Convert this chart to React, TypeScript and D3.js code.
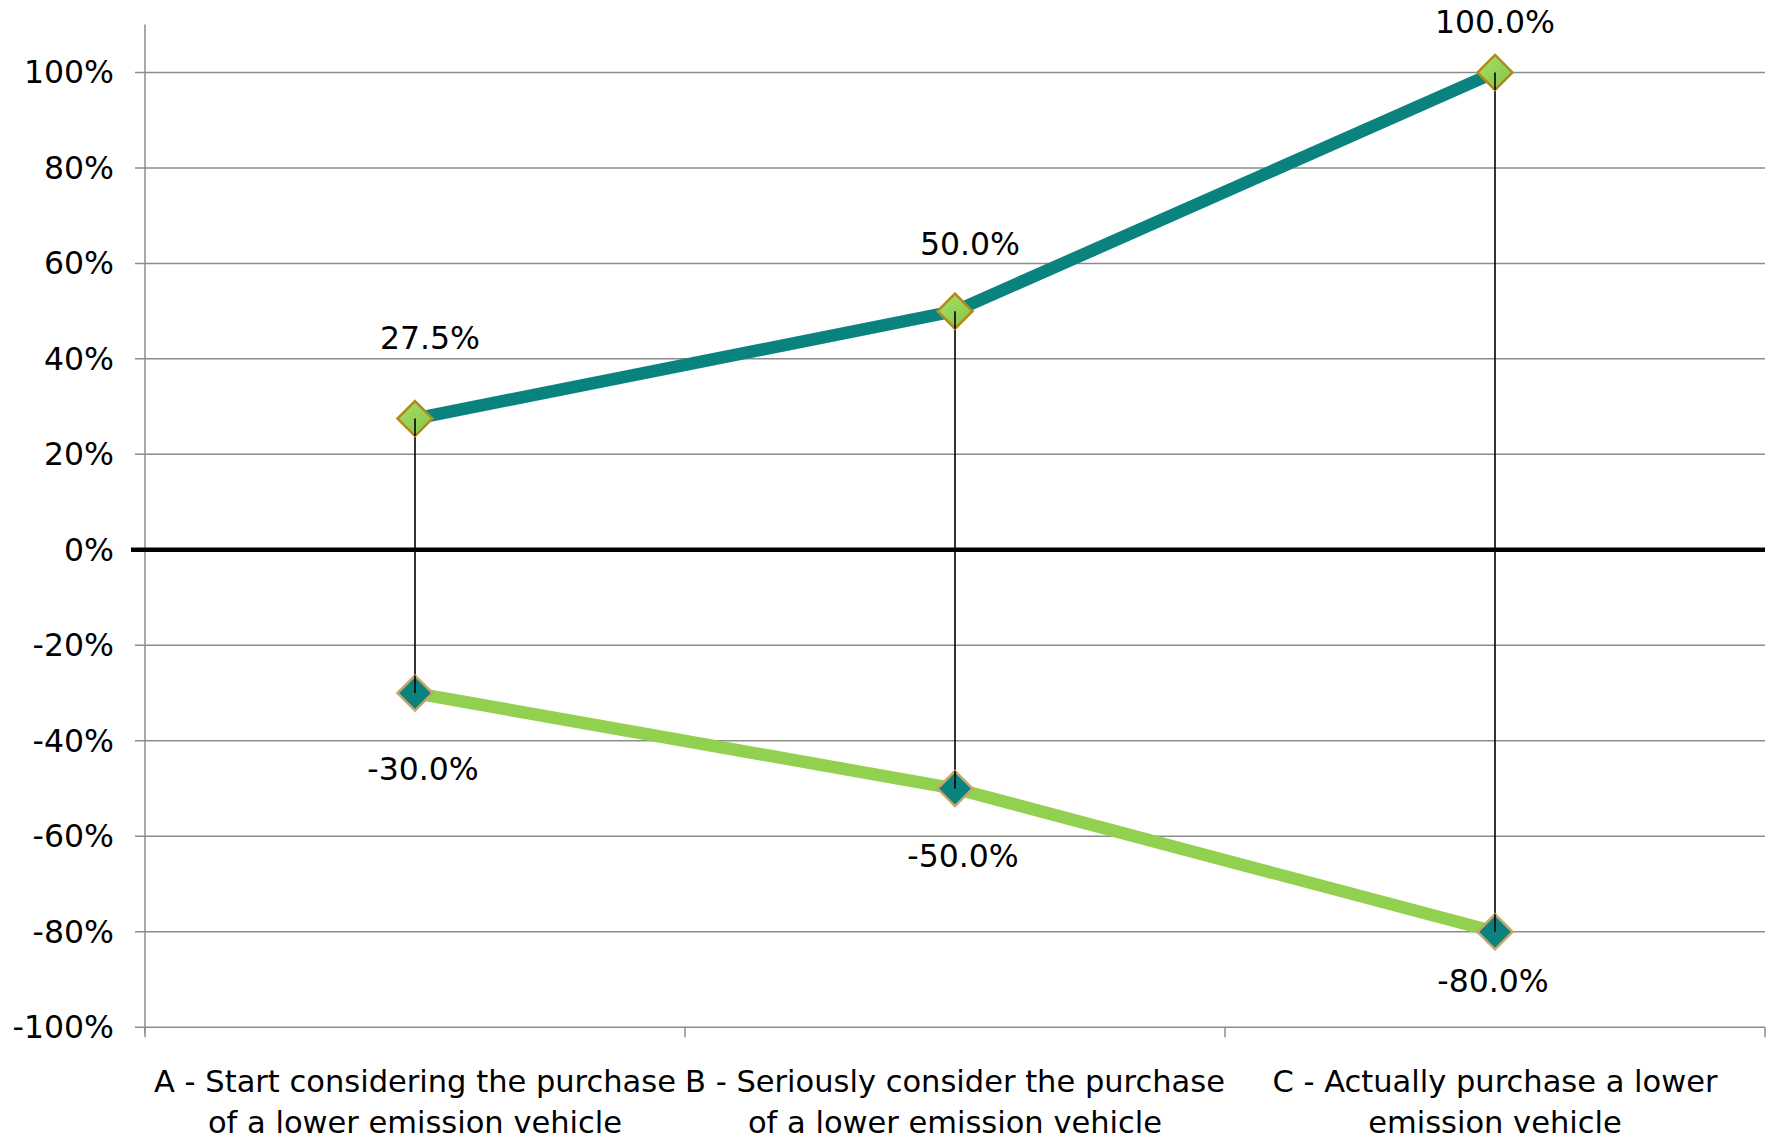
import React from "react";
import * as d3 from "d3";

const categories = [
  ["A - Start considering the purchase", "of a lower emission vehicle"],
  ["B - Seriously consider the purchase", "of a lower emission vehicle"],
  ["C - Actually purchase a lower", "emission vehicle"],
];
const seriesTop = [0.275, 0.5, 1.0];
const seriesBottom = [-0.3, -0.5, -0.8];
const yTicks = [1, 0.8, 0.6, 0.4, 0.2, 0, -0.2, -0.4, -0.6, -0.8, -1];
// label placement (layout only)
const topLabelOffset = [[15, -81], [15, -67], [0, -50]];
const bottomLabelOffset = [[8, 76], [8, 67], [-2, 49]];

const W = 1774;
const H = 1139;
const left = 145;
const right = 1765;
const top = 72.4;
const bottom = 1027.3;
const FONT = "'Century Gothic', 'DejaVu Sans', sans-serif";
const TEAL = "#0A837F";
const GREEN = "#92D050";
const NUM_FS = 31.5;
const CAT_FS = 30.5;

export default function App() {
  const x = d3.scaleBand<number>().domain([0, 1, 2]).range([left, right]);
  const y = d3.scaleLinear().domain([-1, 1]).range([bottom, top]);
  const cx = (i: number) => (x(i) as number) + x.bandwidth() / 2;
  const line = d3.line<number>().x((_, i) => cx(i)).y((d) => y(d));
  const fmtTick = (v: number) => `${Math.round(v * 100)}%`;
  const fmtVal = (v: number) => `${(v * 100).toFixed(1)}%`;
  const diamond = (px: number, py: number, r: number) =>
    `M${px},${py - r}L${px + r},${py}L${px},${py + r}L${px - r},${py}Z`;
  const boundaries = [0, 1, 2, 3].map((i) => left + i * x.bandwidth());
  const R = 17.5;

  return (
    <svg width={W} height={H} style={{ position: "absolute", left: 0, top: 0, background: "#fff" }} fontFamily={FONT}>
      <defs>
        <linearGradient id="gGreen" x1="0" y1="0" x2="1" y2="1">
          <stop offset="0" stopColor="#a8e06a" />
          <stop offset="1" stopColor="#84c444" />
        </linearGradient>
      </defs>
      {/* gridlines */}
      {yTicks.map((t) => (
        <g key={t}>
          {t !== 0 && (
            <line x1={left - 10} x2={right} y1={y(t)} y2={y(t)} stroke="#8c8c8c" strokeWidth={1.5} />
          )}
          <text x={114} y={y(t)} dy="0.35em" textAnchor="end" fontSize={NUM_FS} fill="#000">
            {fmtTick(t)}
          </text>
        </g>
      ))}
      {/* y axis */}
      <line x1={left} x2={left} y1={top - 48} y2={bottom + 6} stroke="#8c8c8c" strokeWidth={1.5} />
      {/* category ticks */}
      {boundaries.map((b, i) => (
        <line key={i} x1={b} x2={b} y1={bottom} y2={bottom + 10} stroke="#8c8c8c" strokeWidth={1.5} />
      ))}
      {/* zero line */}
      <line x1={131} x2={right} y1={y(0)} y2={y(0)} stroke="#000" strokeWidth={4.5} />
      {/* drop lines */}
      {seriesTop.map((v, i) => (
        <line key={i} x1={cx(i)} x2={cx(i)} y1={y(v)} y2={y(seriesBottom[i])} stroke="#000" strokeWidth={1.6} />
      ))}
      {/* series lines */}
      <path d={line(seriesTop) as string} fill="none" stroke={TEAL} strokeWidth={12.5} />
      <path d={line(seriesBottom) as string} fill="none" stroke={GREEN} strokeWidth={12.5} />
      {/* markers */}
      {seriesTop.map((v, i) => (
        <path key={"t" + i} d={diamond(cx(i), y(v), R)} fill="url(#gGreen)" stroke="#B08A1A" strokeWidth={2.5} />
      ))}
      {seriesBottom.map((v, i) => (
        <path key={"b" + i} d={diamond(cx(i), y(v), R)} fill={TEAL} stroke="#C4A56A" strokeWidth={2.5} />
      ))}
      {/* drop lines over markers (center part) */}
      {seriesTop.map((v, i) => (
        <g key={"dl" + i}>
          <line x1={cx(i)} x2={cx(i)} y1={y(v)} y2={y(v) + R} stroke="#000" strokeWidth={1.6} />
          <line x1={cx(i)} x2={cx(i)} y1={y(seriesBottom[i]) - R} y2={y(seriesBottom[i])} stroke="#000" strokeWidth={1.6} />
        </g>
      ))}
      {/* data labels */}
      {seriesTop.map((v, i) => (
        <text key={"lt" + i} x={cx(i) + topLabelOffset[i][0]} y={y(v) + topLabelOffset[i][1]} dy="0.35em" textAnchor="middle" fontSize={NUM_FS}>
          {fmtVal(v)}
        </text>
      ))}
      {seriesBottom.map((v, i) => (
        <text key={"lb" + i} x={cx(i) + bottomLabelOffset[i][0]} y={y(v) + bottomLabelOffset[i][1]} dy="0.35em" textAnchor="middle" fontSize={NUM_FS}>
          {fmtVal(v)}
        </text>
      ))}
      {/* category labels */}
      {categories.map((lines, i) => (
        <text key={"c" + i} x={cx(i)} y={1081} textAnchor="middle" fontSize={CAT_FS}>
          {lines.map((l, j) => (
            <tspan key={j} x={cx(i)} dy={j === 0 ? "0.35em" : 41}>
              {l}
            </tspan>
          ))}
        </text>
      ))}
    </svg>
  );
}
